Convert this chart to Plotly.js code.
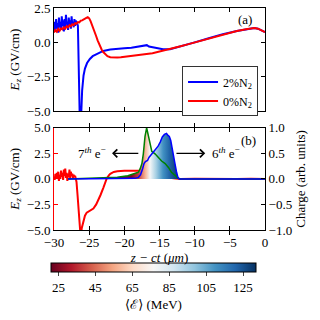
<!DOCTYPE html>
<html>
<head>
<meta charset="utf-8">
<script src="https://cdn.plot.ly/plotly-3.0.1.min.js"></script>
<style>body{margin:0}#chart{width:320px;height:320px}</style>
</head>
<body>
<div id="chart"></div>
<script>
// Panel (a) : champ E_z pour 2% et 0% N2
let aBlueX = [-30, -29.9, -29.8, -29.7, -29.6, -29.5, -29.4, -29.3, -29.2, -29.1, -29.0, -28.9, -28.8, -28.7, -28.6, -28.5, -28.4, -28.3, -28.2, -28.1, -28.0, -27.9, -27.8, -27.7, -27.6, -27.5, -27.4, -27.3, -27.2, -27.1, -27.0, -26.9, -26.8, -26.7,
    -26.6, -26.5, -26.4, -26.3, -26.15, -26.0, -25.8, -25.6, -25.3, -24.9, -24.5, -24.0, -23.5, -23.0, -22.0, -21.0, -20.0, -19.0, -18.0, -17.5, -17.0, -16.8, -16.5, -16.0, -15.4, -14.5,
    -13.5, -12.0, -10.0, -8.0, -6.0, -4.0, -2.5, -2.0, -1.5, -1.0, -0.5, 0];
let aBlueY = [0.9, 1.5, 0.8, 1.7, 1.0, 1.4, 0.7, 1.8, 1.1, 1.5, 0.9, 1.9, 1.2, 1.6, 0.8, 1.7, 1.1, 2.0, 1.3, 1.5, 0.9, 1.8, 1.2, 1.6, 1.0, 1.9, 1.3, 1.5, 1.1, 1.7, 1.2, 1.6, 1.3, 1.4,
    1.2, -1.5, -4.5, -6.5, -5.5, -3.5, -2.4, -1.9, -1.5, -1.2, -1.0, -0.86, -0.72, -0.62, -0.52, -0.45, -0.42, -0.38, -0.32, -0.28, -0.22, -0.2, -0.3, -0.35, -0.4, -0.5,
    -0.5, -0.3, 0.0, 0.3, 0.6, 0.83, 0.98, 1.02, 1.04, 1.0, 0.9, 0.75];

let aRedX = [-30, -29.8, -29.6, -29.4, -29.2, -29.0, -28.8, -28.6, -28.4, -28.2, -28.0, -27.8, -27.6, -27.4, -27.2, -27.0, -26.8, -26.6, -26.4, -26.2, -26.0, -25.8, -25.6, -25.4, -25.2,
    -25.0, -24.8, -24.6, -24.4, -24.2, -24.0, -23.8, -23.6, -23.4, -23.2, -23.0, -22.7, -22.4, -22.0, -21.5, -21.0, -20.5, -20.0, -19.0, -18.0, -17.0, -16.0, -15.0, -14.0, -13.0, -12.0, -11.0,
    -10.0, -8.0, -6.0, -4.0, -2.5, -2.0, -1.5, -1.0, -0.5, 0];
let aRedY = [0.72, 0.9, 0.78, 0.98, 0.85, 1.02, 0.95, 1.1, 1.0, 1.18, 1.1, 1.25, 1.17, 1.32, 1.26, 1.4, 1.36, 1.48, 1.45, 1.58, 1.6, 1.68, 1.72, 1.78, 1.83,
    1.75, 1.55, 1.3, 1.05, 0.75, 0.45, 0.15, -0.1, -0.35, -0.55, -0.7, -0.88, -1.0, -1.08, -1.1, -1.1, -1.08, -1.05, -1.0, -0.93, -0.86, -0.78, -0.66, -0.55, -0.42, -0.28, -0.14,
    0.0, 0.3, 0.6, 0.83, 0.98, 1.02, 1.04, 1.0, 0.9, 0.75];

// Panel (b) : champ E_z (0% N2) et charges
let bRedX = [-30, -29.9, -29.8, -29.7, -29.6, -29.5, -29.4, -29.3, -29.2, -29.1, -29.0, -28.9, -28.8, -28.7, -28.6, -28.5, -28.4, -28.3, -28.2, -28.1, -28.0, -27.9, -27.8, -27.7, -27.6, -27.5, -27.4, -27.3, -27.2, -27.1, -27.0, -26.9,
    -26.8, -26.65, -26.5, -26.35, -26.2, -26.05, -25.85, -25.6, -25.35, -24.9, -24.4, -24.0, -23.7, -23.4, -23.0, -22.75, -22.5, -22.2, -22.0, -21.5, -21.0, -20.0, -19.0, -18.0, -17.5, -17.0, -16.5, -16.0, -15.5, -15.0, -14.0, -13.0, -12.5, -12.0,
    -10.0, -8.0, -6.0, -4.0, -2.0, 0];
let bRedY = [0.2, -0.1, 0.5, 0.0, 0.6, 0.1, 0.7, -0.2, 0.4, 0.0, 0.8, 0.2, 0.6, -0.1, 0.9, 0.3, 1.0, 0.1, 0.6, -0.2, 0.5, 0.2, 0.9, 0.0, 0.7, 0.3, 0.5, 0.1, 0.4, 0.2, 0.3, 0.1,
    -0.3, -1.6, -3.5, -5.6, -5.8, -4.8, -4.2, -3.6, -3.3, -3.1, -2.9, -2.5, -2.1, -1.6, -0.9, -0.4, 0.05, 0.35, 0.5, 0.68, 0.75, 0.8, 0.82, 0.8, 0.72, 0.6, 0.5, 0.4, 0.32, 0.25, 0.15, 0.06, 0.03, 0.0,
    0.02, 0.0, 0.02, 0.0, 0.02, 0.0];

let bBlueX = [-28, -20, -18.5, -18, -17.7, -17.4, -17.2, -17.0, -16.7, -16.5, -16.2, -15.9, -15.5, -15.2, -14.9, -14.6, -14.3, -14.0, -13.8, -13.6, -13.4, -13.2, -13.0, -12.8, -12.6, -12.4, -12.2, 0];
let bBlueY = [0, 0, 0.01, 0.03, 0.08, 0.2, 0.3, 0.34, 0.36, 0.42, 0.47, 0.51, 0.58, 0.64, 0.72, 0.82, 0.87, 0.89, 0.85, 0.83, 0.75, 0.62, 0.45, 0.3, 0.15, 0.04, 0, 0];

let bGreenX = [-28, -24, -21, -19.5, -18.5, -18, -17.75, -17.5, -17.3, -17.06, -16.83, -16.6, -16.35, -16.1, -15.64, -15.2, -14.7, -14.2, -13.7, -13.3, -12.8, -12.3, -12, 0];
let bGreenY = [0, 0.01, 0.03, 0.06, 0.1, 0.13, 0.2, 0.3, 0.49, 0.83, 1.0, 0.83, 0.68, 0.54, 0.49, 0.42, 0.35, 0.3, 0.22, 0.13, 0.07, 0.01, 0, 0];

// energie moyenne le long du paquet (pour le degrade)
let fillPos = [-19, -18, -17, -16.35, -15.5, -14.5, -13.5, -12.3];
let fillEnergy = [24, 38, 58, 77, 95, 110, 122, 131];

let colorbarTicks = [25, 45, 65, 85, 105, 125];
let eMin = 21, eMax = 132;

// RdBu de matplotlib
let rdbuStops = [[103,0,31],[178,24,43],[214,96,77],[244,165,130],[253,219,199],[247,247,247],[209,229,240],[146,197,222],[67,147,195],[33,102,172],[5,48,97]];
let rdbuScale = rdbuStops.map((c, i) => [i / 10, `rgb(${c.join(',')})`]);

function rdbu(t) {
    t = Math.max(0, Math.min(1, t));
    let p = t * 10;
    let i = Math.min(9, Math.floor(p));
    let f = p - i;
    let a = rdbuStops[i], b = rdbuStops[i + 1];
    let c = a.map((v, k) => Math.round(v + (b[k] - v) * f));
    return `rgb(${c.join(',')})`;
}

let x0 = fillPos[0], x1 = fillPos[fillPos.length - 1];
let gradScale = fillPos.map((p, i) => [(p - x0) / (x1 - x0), rdbu((fillEnergy[i] - eMin) / (eMax - eMin))]);
let grad = {type: 'horizontal', colorscale: gradScale, start: x0, stop: x1};

let font = {family: 'Liberation Serif, DejaVu Serif, serif', size: 13, color: 'black'};

let data = [
    {x: aBlueX, y: aBlueY, xaxis: 'x', yaxis: 'y', mode: 'lines', name: '2%N<sub>2</sub>', line: {color: '#0000ff', width: 2}},
    {x: aRedX, y: aRedY, xaxis: 'x', yaxis: 'y', mode: 'lines', name: '0%N<sub>2</sub>', line: {color: '#ff0000', width: 2}},
    // remplissages colores par l'energie
    {x: bGreenX, y: bGreenY, xaxis: 'x2', yaxis: 'y3', mode: 'lines', fill: 'tozeroy', fillgradient: grad, line: {width: 0}, showlegend: false, hoverinfo: 'skip'},
    {x: bBlueX, y: bBlueY, xaxis: 'x2', yaxis: 'y3', mode: 'lines', fill: 'tozeroy', fillgradient: grad, line: {width: 0}, showlegend: false, hoverinfo: 'skip'},
    {x: bGreenX, y: bGreenY, xaxis: 'x2', yaxis: 'y3', mode: 'lines', line: {color: 'green', width: 1.5}, showlegend: false},
    {x: bBlueX, y: bBlueY, xaxis: 'x2', yaxis: 'y3', mode: 'lines', line: {color: '#0000ff', width: 1.5}, showlegend: false},
    {x: bRedX, y: bRedY, xaxis: 'x2', yaxis: 'y2', mode: 'lines', line: {color: '#ff0000', width: 2}, showlegend: false},
    // trace fantome pour la barre de couleur
    {x: [-50, -50], y: [0, 0], xaxis: 'x2', yaxis: 'y3', mode: 'markers', showlegend: false, hoverinfo: 'skip',
        marker: {color: [eMin, eMax], cmin: eMin, cmax: eMax, colorscale: rdbuScale, opacity: 0, showscale: true,
            colorbar: {orientation: 'h', x: 0.4716, xanchor: 'center', y: -0.149, yanchor: 'top', len: 0.9716, lenmode: 'fraction',
                thickness: 9, thicknessmode: 'pixels', xpad: 0, ypad: 0, outlinewidth: 1, outlinecolor: 'black',
                tickvals: colorbarTicks, ticks: 'outside', ticklen: 4, tickfont: font,
                title: {text: '⟨ℰ⟩ (MeV)', side: 'bottom', font: font}}}}
];

let axCommon = {ticks: 'inside', ticklen: 4, showline: true, linecolor: 'black', linewidth: 1, tickcolor: 'black',
    zeroline: false, showgrid: false, tickfont: font};

let layout = {
    width: 320, height: 320,
    margin: {l: 54, r: 55, t: 8, b: 84},
    paper_bgcolor: 'white', plot_bgcolor: 'white',
    font: font,
    showlegend: true,
    legend: {x: 0.967, y: 0.737, xanchor: 'right', yanchor: 'top', bordercolor: '#333', borderwidth: 1, bgcolor: 'white',
        font: {family: font.family, size: 12}, itemwidth: 30, tracegroupgap: 0},
    xaxis: Object.assign({}, axCommon, {domain: [0, 1], anchor: 'y', range: [-30, 0], dtick: 5, showticklabels: false, mirror: 'allticks'}),
    yaxis: Object.assign({}, axCommon, {domain: [0.535, 1], anchor: 'x', range: [-5, 2.5], tickvals: [-5, -2.5, 0, 2.5], tickformat: '.1f', mirror: 'allticks',
        title: {text: '<i>E<sub>z</sub></i> (GV/cm)', font: font, standoff: 4}}),
    xaxis2: Object.assign({}, axCommon, {domain: [0, 1], anchor: 'y2', range: [-30, 0], dtick: 5, mirror: 'allticks',
        title: {text: '<i>z − ct</i> (<i>μm</i>)', font: font, standoff: 2}}),
    yaxis2: Object.assign({}, axCommon, {domain: [0, 0.4605], anchor: 'x2', range: [-5, 5], tickvals: [-5, -2.5, 0, 2.5, 5], tickformat: '.1f',
        linecolor: '#ff0000', tickcolor: '#ff0000',
        title: {text: '<i>E<sub>z</sub></i> (GV/cm)', font: font, standoff: 4}}),
    yaxis3: Object.assign({}, axCommon, {overlaying: 'y2', side: 'right', anchor: 'x2', range: [-1, 1], tickvals: [-1, -0.5, 0, 0.5, 1], tickformat: '.1f',
        title: {text: 'Charge (arb. units)', font: font, standoff: 4}}),
    annotations: [
        {xref: 'x', yref: 'y', x: -2.84, y: 1.64, text: '(a)', showarrow: false, font: font},
        {xref: 'x2', yref: 'y2', x: -2.4, y: 3.76, text: '(b)', showarrow: false, font: font},
        {xref: 'x2', yref: 'y2', x: -24.6, y: 2.5, text: '7<sup><i>th</i></sup> e<sup>−</sup>', showarrow: false, font: font},
        {xref: 'x2', yref: 'y2', x: -5.6, y: 2.5, text: '6<sup><i>th</i></sup> e<sup>−</sup>', showarrow: false, font: font},
        {xref: 'x2', yref: 'y2', x: -21.75, y: 2.5, axref: 'x2', ayref: 'y2', ax: -17.8, ay: 2.5, text: '', showarrow: true,
            arrowhead: 4, arrowsize: 1.2, arrowwidth: 1.3, arrowcolor: 'black'},
        {xref: 'x2', yref: 'y2', x: -8.5, y: 2.5, axref: 'x2', ayref: 'y2', ax: -12.8, ay: 2.5, text: '', showarrow: true,
            arrowhead: 4, arrowsize: 1.2, arrowwidth: 1.3, arrowcolor: 'black'}
    ]
};

Plotly.newPlot('chart', data, layout, {staticPlot: true});
</script>
</body>
</html>
